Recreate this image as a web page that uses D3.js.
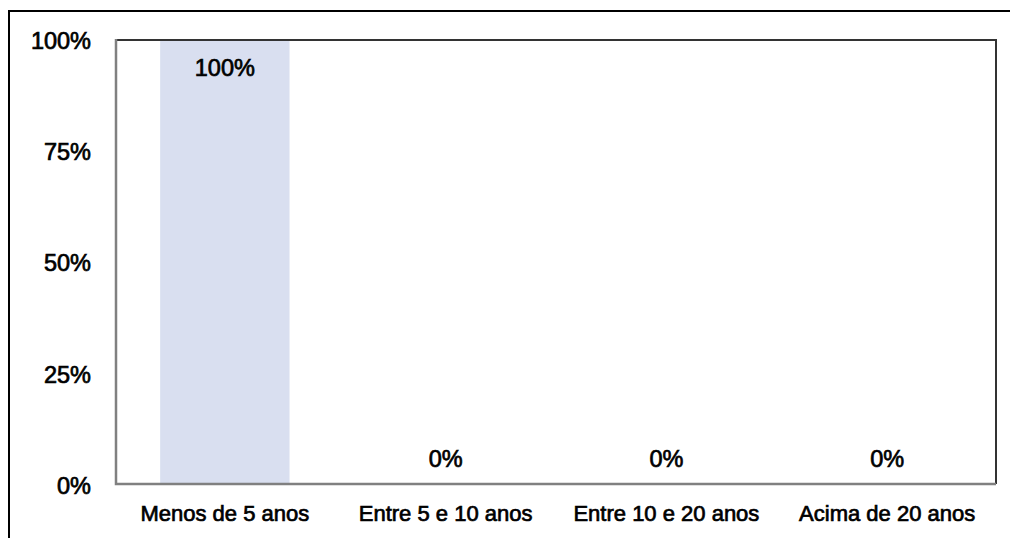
<!DOCTYPE html>
<html>
<head>
<meta charset="utf-8">
<script src="https://cdn.jsdelivr.net/npm/d3@7"></script>
<style>
  html, body { margin: 0; padding: 0; background: #fff; }
  svg { display: block; }
  text { font-family: "Liberation Sans", Arial, sans-serif; fill: #000; stroke: #000; stroke-width: 0.7px; }
</style>
</head>
<body>
<svg id="chart" width="1010" height="538"></svg>
<script>
// Share of respondents by time range
const categories = ["Menos de 5 anos", "Entre 5 e 10 anos", "Entre 10 e 20 anos", "Acima de 20 anos"];
const values = [1.00, 0.00, 0.00, 0.00];
const tickValues = [0, 0.25, 0.5, 0.75, 1];
const tickLabels = ["0%", "25%", "50%", "75%", "100%"];

const svg = d3.select("#chart");
const W = 1010, H = 538;
const plot = { left: 116, right: 996, top: 40, bottom: 485 };

// Outer frame (top and left edges of the enclosing box)
svg.append("path")
  .attr("d", `M9,${H} L9,11 L${W},11`)
  .attr("fill", "none")
  .attr("stroke", "#000")
  .attr("stroke-width", 2);

const x = d3.scaleBand()
  .domain(categories)
  .range([plot.left, plot.right])
  .paddingInner(0.414)
  .paddingOuter(0.2);

const y = d3.scaleLinear()
  .domain([0, 1])
  .range([plot.bottom, plot.top]);

// Bars
svg.append("g").selectAll("rect")
  .data(values)
  .join("rect")
  .attr("x", (d, i) => x(categories[i]))
  .attr("y", d => y(d))
  .attr("width", x.bandwidth())
  .attr("height", d => y(0) - y(d))
  .attr("fill", "#d9dff0");

// Plot area border: grey on left/bottom, dark on top/right
svg.append("path")
  .attr("d", `M${plot.right},${plot.top} L${plot.right},${plot.bottom - 1}`)
  .attr("stroke", "#333").attr("stroke-width", 2).attr("fill", "none");
svg.append("path")
  .attr("d", `M${plot.left},${plot.top} L${plot.right + 1},${plot.top}`)
  .attr("stroke", "#333").attr("stroke-width", 2).attr("fill", "none");
svg.append("path")
  .attr("d", `M${plot.left},${plot.top - 1} L${plot.left},${plot.bottom - 1} L${plot.right},${plot.bottom - 1}`)
  .attr("stroke", "#808080").attr("stroke-width", 2.5).attr("fill", "none");

// Y axis labels
const yAxis = d3.axisLeft(y)
  .tickValues(tickValues)
  .tickSize(0)
  .tickPadding(0)
  .tickFormat((d, i) => tickLabels[i]);
const gy = svg.append("g")
  .attr("transform", `translate(91,0)`)
  .call(yAxis);
gy.select(".domain").remove();
gy.selectAll("text")
  .attr("font-family", "'Liberation Sans', Arial, sans-serif")
  .attr("font-size", 23.5)
  .attr("fill", "#000")
  .attr("dy", "0.36em");

// X axis category labels
const xAxis = d3.axisBottom(x).tickSize(0).tickPadding(0);
const gx = svg.append("g")
  .attr("transform", `translate(0,521)`)
  .call(xAxis);
gx.select(".domain").remove();
gx.selectAll("text")
  .attr("font-family", "'Liberation Sans', Arial, sans-serif")
  .attr("font-size", 22)
  .attr("fill", "#000")
  .attr("y", 0)
  .attr("dy", 0);

// Value labels: inside the top of tall bars, just above the baseline otherwise
svg.append("g").selectAll("text")
  .data(values)
  .join("text")
  .attr("x", (d, i) => x(categories[i]) + x.bandwidth() / 2)
  .attr("y", d => (y(0) - y(d) > 60) ? y(d) + 36 : y(d) - 18)
  .attr("text-anchor", "middle")
  .attr("font-size", 23.5)
  .text(d => d3.format(".0%")(d));
</script>
</body>
</html>
